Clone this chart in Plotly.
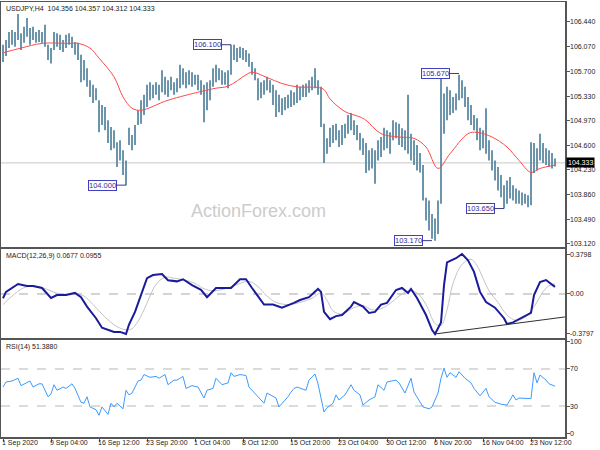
import plotly.graph_objects as go

# ---------------- data ----------------
high = [106.10, 106.17, 106.29, 106.32, 106.29, 106.56, 106.27, 106.37, 106.50, 106.35,
        106.37, 106.29, 106.32, 106.29, 106.40, 106.10, 106.05, 106.29, 106.27, 106.25,
        106.17, 106.25, 106.27, 106.22, 106.14, 106.13, 105.95, 105.87, 105.75, 105.57,
        105.50, 105.45, 105.27, 105.20, 105.17, 104.97, 104.87, 104.82, 104.64, 104.67,
        104.52, 104.37, 104.86, 104.75, 104.90, 105.12, 105.27, 105.35, 105.50, 105.54,
        105.50, 105.54, 105.50, 105.72, 105.62, 105.57, 105.62, 105.54, 105.60, 105.80,
        105.75, 105.69, 105.72, 105.69, 105.65, 105.65, 105.57, 105.50, 105.54, 105.57,
        105.75, 105.80, 105.75, 105.72, 105.69, 105.72, 106.10, 106.10, 106.05, 106.07,
        106.05, 106.02, 105.97, 105.84, 105.75, 105.60, 105.54, 105.57, 105.62, 105.57,
        105.50, 105.42, 105.35, 105.30, 105.32, 105.35, 105.42, 105.39, 105.50, 105.47,
        105.50, 105.52, 105.57, 105.62, 105.75, 105.57, 105.47, 104.92, 104.70, 104.86,
        104.90, 104.92, 104.82, 104.90, 104.92, 105.05, 105.08, 104.97, 104.90, 104.78,
        104.70, 104.63, 104.52, 104.55, 104.52, 104.67, 104.72, 104.86, 104.82, 104.79,
        104.97, 104.94, 104.92, 104.85, 104.82, 105.35, 104.77, 104.67, 104.60, 104.48,
        104.30, 103.81, 103.77, 103.57, 103.50, 103.77, 105.67, 105.37, 105.47, 105.42,
        105.32, 105.37, 105.65, 105.57, 105.47, 105.32, 105.20, 105.05, 105.00, 104.86,
        104.82, 105.15, 104.67, 104.52, 104.37, 104.27, 104.15, 104.00, 104.07, 104.12,
        104.00, 103.95, 103.92, 103.89, 103.87, 103.85, 104.64, 104.63, 104.55, 104.77,
        104.63, 104.55, 104.52, 104.48, 104.40]
low = [105.84, 105.93, 106.05, 106.10, 106.07, 106.17, 106.02, 106.13, 106.22, 106.10,
       106.17, 106.13, 106.14, 106.13, 106.07, 105.87, 105.82, 106.02, 106.07, 106.02,
       105.99, 106.05, 106.10, 106.05, 105.95, 105.87, 105.54, 105.57, 105.47, 105.32,
       105.23, 105.27, 104.79, 104.90, 104.82, 104.63, 104.52, 104.55, 104.27, 104.37,
       104.15, 104.00, 104.60, 104.52, 104.60, 104.90, 104.92, 105.05, 105.17, 105.27,
       105.30, 105.35, 105.27, 105.39, 105.35, 105.32, 105.42, 105.35, 105.39, 105.45,
       105.50, 105.45, 105.50, 105.47, 105.50, 105.42, 105.35, 104.94, 105.12, 105.27,
       105.47, 105.54, 105.57, 105.50, 105.50, 105.45, 105.65, 105.87, 105.84, 105.90,
       105.87, 105.84, 105.77, 105.65, 105.57, 105.27, 105.30, 105.35, 105.42, 105.38,
       105.20, 105.02, 105.09, 105.05, 105.12, 105.15, 105.17, 105.20, 105.23, 105.27,
       105.32, 105.32, 105.38, 105.42, 105.45, 105.35, 104.87, 104.33, 104.47, 104.57,
       104.63, 104.67, 104.57, 104.60, 104.70, 104.77, 104.82, 104.75, 104.67, 104.52,
       104.45, 104.18, 104.22, 104.25, 104.02, 104.37, 104.42, 104.52, 104.55, 104.47,
       104.67, 104.70, 104.60, 104.57, 104.52, 104.47, 104.37, 104.30, 104.22, 104.19,
       103.77, 103.47, 103.32, 103.20, 103.17, 103.27, 103.72, 104.77, 104.97, 105.05,
       105.08, 105.12, 105.27, 105.30, 105.17, 104.97, 104.90, 104.82, 104.67, 104.52,
       104.55, 104.47, 104.37, 104.22, 104.07, 103.92, 103.82, 103.65, 103.72, 103.80,
       103.77, 103.72, 103.72, 103.70, 103.72, 103.67, 103.70, 104.18, 104.22, 104.37,
       104.33, 104.30, 104.27, 104.25, 104.28]

ma_bar = [0, 6, 13, 22, 25, 29, 32, 37, 40, 43, 46, 55, 66, 71, 75, 81, 83, 88, 93, 98,
          105, 107, 109, 114, 119, 121, 126, 132, 137, 141, 145, 149, 155, 158, 163, 168,
          172, 176, 179, 184]
ma_val = [105.98, 106.05, 106.12, 106.12, 106.12, 106.05, 105.90, 105.62, 105.32, 105.15,
          105.12, 105.27, 105.40, 105.45, 105.48, 105.65, 105.69, 105.61, 105.52, 105.47,
          105.46, 105.43, 105.29, 105.10, 105.02, 104.97, 104.77, 104.72, 104.70, 104.57,
          104.25, 104.47, 104.77, 104.79, 104.72, 104.57, 104.37, 104.19, 104.25, 104.30]

macd_bar = [0, 1, 5, 8, 10, 13, 16, 18, 21, 24, 26, 28, 31, 33, 37, 39, 41, 42, 44, 46,
            48, 50, 53, 55, 58, 60, 63, 66, 68, 71, 76, 79, 81, 83, 87, 90, 93, 97, 99, 102,
            105, 106, 107, 109, 111, 113, 116, 117, 120, 122, 124, 126, 128, 131, 133, 135,
            136, 138, 141, 143, 144, 146, 147, 148, 151, 153, 155, 157, 159, 161, 164, 167,
            168, 170, 172, 176, 177, 179, 181, 182, 184]
macd_val = [-0.04, 0.02, 0.095, 0.076, 0.076, 0.057, -0.038, -0.01, -0.01, 0.01, -0.03,
            -0.12, -0.23, -0.32, -0.36, -0.36, -0.38, -0.29, -0.17, -0.01, 0.15, 0.18, 0.19,
            0.13, 0.12, 0.14, 0.085, 0.04, -0.03, 0.057, 0.057, 0.14, 0.14, 0.057, -0.10,
            -0.10, -0.13, -0.085, -0.057, -0.03, 0.048, 0.02, -0.17, -0.24, -0.21, -0.20,
            -0.12, -0.076, -0.12, -0.18, -0.17, -0.10, -0.085, 0.038, 0.057, 0.01, 0.048,
            -0.038, -0.20, -0.34, -0.38, -0.27, 0.085, 0.30, 0.34, 0.38, 0.32, 0.21, 0.02,
            -0.076, -0.13, -0.23, -0.285, -0.27, -0.24, -0.18, -0.01, 0.114, 0.133, 0.114,
            0.0677]

sig_bar = [0, 3, 7, 11, 15, 19, 24, 27, 30, 34, 38, 41, 43, 45, 47, 49, 51, 54, 57, 61,
           64, 67, 70, 74, 78, 82, 85, 88, 91, 95, 99, 103, 106, 108, 110, 113, 117, 120,
           123, 126, 129, 132, 135, 138, 141, 144, 146, 148, 150, 153, 156, 158, 160, 162,
           165, 168, 171, 174, 177, 180, 182, 184]
sig_val = [-0.10, -0.02, 0.06, 0.075, 0.04, 0.0, 0.0, -0.02, -0.10, -0.22, -0.31, -0.34,
           -0.33, -0.26, -0.15, -0.02, 0.09, 0.16, 0.15, 0.13, 0.10, 0.05, 0.03, 0.05, 0.09,
           0.12, 0.07, -0.02, -0.08, -0.10, -0.08, -0.04, 0.01, -0.06, -0.16, -0.19, -0.13,
           -0.11, -0.15, -0.14, -0.09, -0.02, 0.03, 0.01, -0.10, -0.28, -0.30, -0.15, 0.10,
           0.28, 0.33, 0.27, 0.15, 0.03, -0.08, -0.20, -0.25, -0.22, -0.12, 0.02, 0.08, 0.0955]

rsi_bar = [0, 1, 3, 5, 6, 8, 9, 10, 12, 13, 15, 16, 17, 18, 20, 21, 23, 24, 26, 27, 28, 29,
           31, 32, 33, 35, 36, 37, 38, 40, 41, 42, 43, 45, 46, 47, 49, 51, 52, 54, 55, 57,
           58, 60, 61, 63, 65, 67, 68, 70, 71, 73, 75, 76, 77, 79, 81, 82, 85, 86, 87, 88,
           91, 92, 95, 96, 97, 98, 101, 102, 104, 105, 106, 107, 108, 110, 111, 112, 114,
           116, 117, 119, 120, 122, 124, 125, 127, 128, 131, 132, 134, 136, 137, 138, 140,
           142, 143, 145, 146, 147, 148, 149, 151, 152, 154, 156, 157, 159, 161, 162, 164,
           166, 168, 170, 171, 172, 175, 176, 177, 178, 179, 181, 182, 184]
rsi_val = [50.5, 56, 57, 60, 52, 55, 57, 50.5, 54, 54, 40, 43, 53, 47, 50.5, 49, 54, 49,
           34, 33, 40, 29, 26, 20, 29, 21, 33, 29, 33, 27, 47, 42, 44, 57, 58, 64, 61, 62,
           60, 64, 53, 58, 58, 62, 49, 52, 50.5, 38.6, 47, 49, 60, 53, 55, 66, 62, 64, 63,
           50.5, 40, 36.5, 33, 44, 38.6, 29, 40, 45, 49, 50.5, 47, 58, 64.6, 54, 40, 23.5,
           28, 33, 42, 36.5, 42, 53, 47, 42, 31, 36.5, 40, 53, 47, 56, 58, 55, 44, 60, 45,
           40, 29, 27, 29, 44, 60, 71, 61, 66, 61, 67, 60, 55, 49, 41, 49, 40, 34, 32, 31,
           42, 36.5, 38.6, 38.6, 38, 66, 55, 63.5, 58, 54, 51.388]

trend_bar = [144, 187.3]
trend_val = [-0.38, -0.218]

swing_bar = [41, 76, 152, 143, 167]
swing_price = [104.000, 106.100, 105.670, 103.170, 103.650]

last_price = 104.333
price_ticks = [103.12, 103.49, 103.86, 104.23, 104.60, 104.97, 105.33, 105.70, 106.07, 106.44]
macd_ticks = [0.3798, 0.0, -0.3797]
macd_tick_text = ["0.3798", "0.00", "-0.3797"]
rsi_ticks = [100, 70, 30, 0]
rsi_levels = [70, 30]
date_ticks = [0, 16, 32, 48, 64, 80, 96, 112, 128, 144, 160, 176]
date_labels = ["1 Sep 2020", "9 Sep 04:00", "16 Sep 12:00", "23 Sep 20:00", "1 Oct 04:00",
               "8 Oct 12:00", "15 Oct 20:00", "23 Oct 04:00", "30 Oct 12:00", "6 Nov 20:00",
               "16 Nov 04:00", "23 Nov 12:00"]

# ---------------- figure ----------------
FONT = "Liberation Sans, Arial, sans-serif"
AX = "#555555"
TXT = "#222222"
bx, by = [], []
for i, (h, l) in enumerate(zip(high, low)):
    bx += [i, i, None]
    by += [h, l, None]

fig = go.Figure()
fig.add_trace(go.Scatter(x=bx, y=by, mode="lines", line=dict(color="#5b89a3", width=1.8),
                         xaxis="x", yaxis="y", hoverinfo="skip"))
fig.add_trace(go.Scatter(x=ma_bar, y=ma_val, mode="lines", line=dict(color="#ff4a4a", width=1, shape="spline"),
                         xaxis="x", yaxis="y"))
fig.add_trace(go.Scatter(x=sig_bar, y=sig_val, mode="lines", line=dict(color="#c4c4c4", width=1, shape="spline"),
                         xaxis="x2", yaxis="y2"))
fig.add_trace(go.Scatter(x=macd_bar, y=macd_val, mode="lines", line=dict(color="#1a1a9a", width=2),
                         xaxis="x2", yaxis="y2"))
fig.add_trace(go.Scatter(x=trend_bar, y=trend_val, mode="lines", line=dict(color="#303030", width=1),
                         xaxis="x2", yaxis="y2"))
fig.add_trace(go.Scatter(x=rsi_bar, y=rsi_val, mode="lines", line=dict(color="#3d9bff", width=1),
                         xaxis="x3", yaxis="y3"))

xr = [-0.67, 187.33]
xcommon = dict(range=xr, showgrid=False, zeroline=False, showline=True, mirror=True,
               linecolor=AX, linewidth=1.5, showticklabels=False, automargin=False)
ycommon = dict(showgrid=False, zeroline=False, showline=True, mirror=True, linecolor=AX,
               linewidth=1.5, side="right", ticks="outside", ticklen=3, tickcolor=AX,
               showticklabels=False, automargin=False)

fig.update_layout(
    width=600, height=450, margin=dict(l=1, r=35, t=2, b=13, autoexpand=False),
    paper_bgcolor="white", plot_bgcolor="white", showlegend=False, hovermode=False,
    xaxis=dict(**xcommon, anchor="y", ticks=""),
    xaxis2=dict(**xcommon, anchor="y2", matches="x", ticks=""),
    xaxis3=dict(**xcommon, anchor="y3", matches="x", tickvals=date_ticks,
                ticks="outside", ticklen=3, tickcolor=AX),
    yaxis=dict(**ycommon, domain=[0.4368, 1.0], range=[103.075, 106.739], anchor="x",
               tickvals=price_ticks),
    yaxis2=dict(**ycommon, domain=[0.2276, 0.4322], range=[-0.418, 0.4275], anchor="x2",
                tickvals=macd_ticks),
    yaxis3=dict(**ycommon, domain=[0.0, 0.2230], range=[-3.5, 101.35], anchor="x3",
                tickvals=rsi_ticks),
)

# axis tick labels as text annotations (left-aligned like the terminal)
tf = dict(family=FONT, size=7, color=TXT)
for v in price_ticks:
    fig.add_annotation(xref="paper", yref="y", x=1.0, y=v, xanchor="left", yanchor="middle",
                       xshift=4, text=f"{v:.3f}", showarrow=False, font=tf, borderpad=0)
for v, t in zip(macd_ticks, macd_tick_text):
    fig.add_annotation(xref="paper", yref="y2", x=1.0, y=v, xanchor="left", yanchor="middle",
                       xshift=4, text=t, showarrow=False, font=tf, borderpad=0)
for v in rsi_ticks:
    fig.add_annotation(xref="paper", yref="y3", x=1.0, y=v, xanchor="left", yanchor="middle",
                       xshift=4, text=str(v), showarrow=False, font=tf, borderpad=0)
for v, t in zip(date_ticks, date_labels):
    fig.add_annotation(xref="x3", yref="paper", x=v, y=0, xanchor="left", yanchor="top",
                       xshift=-2, yshift=-1, text=t, showarrow=False, font=tf, borderpad=0)

# reference lines
fig.add_shape(type="line", xref="x domain", yref="y", x0=0, x1=1, y0=last_price, y1=last_price,
              line=dict(color="#c8c8c8", width=1), layer="below")
fig.add_shape(type="line", xref="x2 domain", yref="y2", x0=0, x1=1, y0=0, y1=0,
              line=dict(color="#a8a8a8", width=1, dash="dash"), layer="below")
for lv in rsi_levels:
    fig.add_shape(type="line", xref="x3 domain", yref="y3", x0=0, x1=1, y0=lv, y1=lv,
                  line=dict(color="#b8b8b8", width=1, dash="dash"), layer="below")

# titles
fig.add_annotation(xref="x domain", yref="y domain", x=0.006, y=0.995, xanchor="left", yanchor="top",
                   text="USDJPY,H4  104.356 104.357 104.312 104.333", showarrow=False, font=tf)
fig.add_annotation(xref="x2 domain", yref="y2 domain", x=0.006, y=0.985, xanchor="left", yanchor="top",
                   text="MACD(12,26,9) 0.0677 0.0955", showarrow=False, font=tf)
fig.add_annotation(xref="x3 domain", yref="y3 domain", x=0.006, y=0.985, xanchor="left", yanchor="top",
                   text="RSI(14) 51.3880", showarrow=False, font=tf)

# watermark
fig.add_annotation(xref="x domain", yref="y domain", x=0.457, y=0.147, xanchor="center",
                   yanchor="middle", text="ActionForex.com",
                   showarrow=False, font=dict(family=FONT, size=18, color="#cccccc"))

# current price tag
fig.add_annotation(xref="paper", yref="y", x=1.0, y=last_price, xanchor="left", yanchor="middle",
                   xshift=1, text=f"{last_price:.3f}", showarrow=False, bgcolor="black", borderpad=1,
                   font=dict(family=FONT, size=7, color="white"))

# swing labels
for b, p in zip(swing_bar, swing_price):
    fig.add_annotation(xref="x", yref="y", x=b, y=p, text=f"{p:.3f}", showarrow=True,
                       arrowhead=0, arrowwidth=1, arrowcolor="#3a3a8a", standoff=0,
                       ax=-24, ay=0, bgcolor="white", bordercolor="#4040c0", borderwidth=1,
                       borderpad=0, font=dict(family=FONT, size=7.5, color="#3030a0"))

fig.write_html("out.html", config={"displayModeBar": False, "staticPlot": True},
               post_script="document.body.style.margin='0';document.body.style.overflow='hidden';")
